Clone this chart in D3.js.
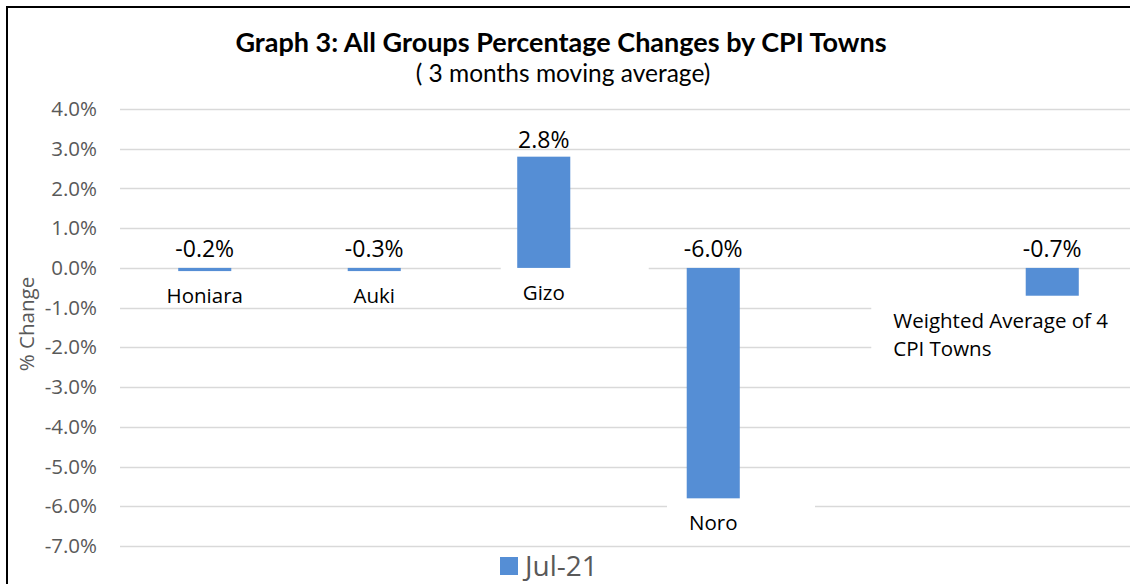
<!DOCTYPE html>
<html>
<head>
<meta charset="utf-8">
<script src="https://cdn.jsdelivr.net/npm/d3@7"></script>
<style>
  body { margin: 0; background: #fff; }
  svg { display: block; }
</style>
</head>
<body>
<div id="graph"></div>
<script>
// chart data
var towns = ['Honiara', 'Auki', 'Gizo', 'Noro', '', 'Weighted Average of 4 CPI Towns'];
var barValues = [-0.08, -0.08, 2.8, -5.8, null, -0.7];
var dataLabels = ['-0.2%', '-0.3%', '2.8%', '-6.0%', '', '-0.7%'];
var yTicks = [-7, -6, -5, -4, -3, -2, -1, 0, 1, 2, 3, 4];
var seriesName = 'Jul-21';

(function() {
  'use strict';
  var width = 1130, height = 584,
    plot = {left: 120, right: 1137, top: 109, bottom: 546},
    barColor = '#558ED5',
    gridColor = '#D9D9D9',
    axisText = '#595959',
    bodyFont = '"Open Sans", "Noto Sans", sans-serif',
    titleFont = 'Lato, "Liberation Sans", sans-serif';

  var svg = d3.select('#graph').append('svg')
    .attr('width', width)
    .attr('height', height);

  // outer chart border (cropped on right/bottom)
  svg.append('rect')
    .attr('x', 7).attr('y', 7)
    .attr('width', width + 10).attr('height', height + 10)
    .attr('fill', 'none')
    .attr('stroke', '#000')
    .attr('stroke-width', 2);

  var x = d3.scaleBand()
    .domain(d3.range(towns.length))
    .range([plot.left, plot.right])
    .paddingInner(0.687)
    .paddingOuter(0.687 / 2);

  var y = d3.scaleLinear()
    .domain([d3.min(yTicks), d3.max(yTicks)])
    .range([plot.bottom, plot.top]);

  // gridlines
  svg.append('g')
    .selectAll('line')
    .data(yTicks)
    .enter().append('line')
    .attr('x1', plot.left).attr('x2', plot.right)
    .attr('y1', function(d) {return Math.round(y(d)) + 0.5;})
    .attr('y2', function(d) {return Math.round(y(d)) + 0.5;})
    .attr('stroke', gridColor)
    .attr('stroke-width', 1.5);

  // y axis labels (plain hyphen, like Excel)
  var yAxis = d3.axisLeft(y)
    .tickValues(yTicks)
    .tickSize(0)
    .tickPadding(0)
    .tickFormat(function(d) {return d.toFixed(1) + '%';});

  var yG = svg.append('g')
    .attr('transform', 'translate(97, 0)')
    .call(yAxis);
  yG.select('.domain').remove();
  yG.selectAll('text')
    .attr('fill', axisText)
    .style('font-family', bodyFont)
    .style('font-size', '20.5px');

  svg.append('text')
    .attr('transform', 'translate(34, 324) rotate(-90)')
    .attr('text-anchor', 'middle')
    .attr('fill', axisText)
    .style('font-family', bodyFont)
    .style('font-size', '20.5px')
    .text('% Change');

  // category labels (with white boxes that hide gridlines)
  var boxG = svg.append('g');
  var barG = svg.append('g');
  var catG = svg.append('g');

  towns.forEach(function(name, i) {
    if (!name) return;
    var cx = x(i) + x.bandwidth() / 2;
    var v = barValues[i];
    var base = Math.max(y(0), y(v));
    var t = catG.append('text')
      .attr('y', base + 32)
      .attr('fill', '#000')
      .style('font-family', bodyFont)
      .style('font-size', '20.5px');
    // wrap long names
    var words = name.split(' '), line = [], lines = [];
    var probe = t.append('tspan');
    words.forEach(function(w) {
      line.push(w);
      probe.text(line.join(' '));
      if (probe.node().getComputedTextLength() > 230 && line.length > 1) {
        line.pop();
        lines.push(line.join(' '));
        line = [w];
      }
    });
    lines.push(line.join(' '));
    probe.remove();
    var tw = 0;
    lines.forEach(function(l, k) {
      var ts = t.append('tspan').attr('x', 0).attr('dy', k === 0 ? 0 : 28).text(l);
      tw = Math.max(tw, ts.node().getComputedTextLength());
    });
    var left = Math.min(cx - tw / 2, width - 22 - tw);
    t.selectAll('tspan').attr('x', left);
    boxG.append('rect')
      .attr('x', left - 22)
      .attr('y', base - 1)
      .attr('width', Math.max(148, tw + 44))
      .attr('height', (lines.length - 1) * 28 + 36)
      .attr('fill', '#fff');
  });

  // bars
  var barData = towns.map(function(t, i) {return {i: i, v: barValues[i], label: dataLabels[i]};})
    .filter(function(d) {return d.v !== null;});

  barG.selectAll('rect')
    .data(barData)
    .enter().append('rect')
    .attr('x', function(d) {return x(d.i);})
    .attr('width', x.bandwidth())
    .attr('y', function(d) {return y(Math.max(0, d.v));})
    .attr('height', function(d) {return Math.abs(y(d.v) - y(0));})
    .attr('fill', barColor);

  // data labels
  svg.append('g')
    .selectAll('text')
    .data(barData)
    .enter().append('text')
    .attr('x', function(d) {return x(d.i) + x.bandwidth() / 2;})
    .attr('y', function(d) {return d.v > 0 ? y(d.v) - 9 : y(0) - 11;})
    .attr('text-anchor', 'middle')
    .attr('fill', '#000')
    .style('font-family', bodyFont)
    .style('font-size', '23px')
    .text(function(d) {return d.label;});

  // title
  svg.append('text')
    .attr('x', 561).attr('y', 52)
    .attr('text-anchor', 'middle')
    .style('font-family', titleFont)
    .style('font-weight', 'bold')
    .style('font-size', '27px')
    .attr('fill', '#000')
    .text('Graph 3: All Groups Percentage Changes by CPI Towns');

  svg.append('text')
    .attr('x', 563).attr('y', 82)
    .attr('text-anchor', 'middle')
    .style('font-family', titleFont)
    .style('font-size', '24.5px')
    .attr('fill', '#000')
    .text('( 3 months moving average)');

  // legend
  var lg = svg.append('g').attr('transform', 'translate(500, 557)');
  lg.append('rect')
    .attr('width', 18).attr('height', 18)
    .attr('fill', barColor);
  lg.append('text')
    .attr('x', 25).attr('y', 19)
    .attr('fill', axisText)
    .style('font-family', bodyFont)
    .style('font-size', '28px')
    .text(seriesName);
})();
</script>
</body>
</html>
